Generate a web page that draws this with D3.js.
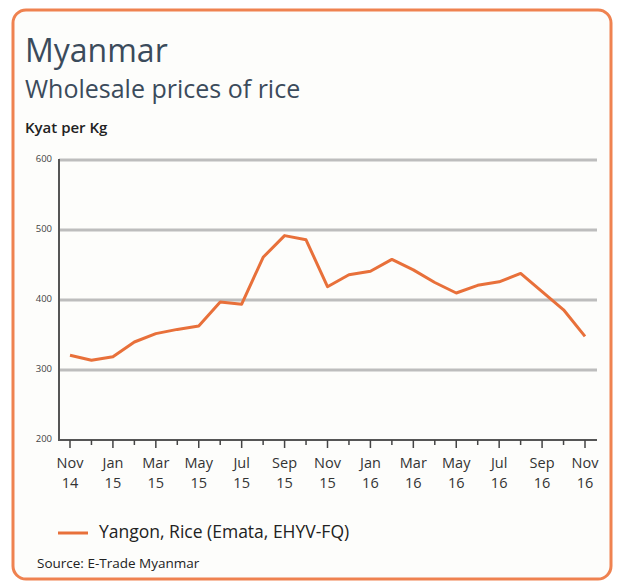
<!DOCTYPE html>
<html><head><meta charset="utf-8">
<script src="https://cdn.jsdelivr.net/npm/d3@7/dist/d3.min.js"></script>
<style>body{margin:0;background:#fff;} svg{display:block;}</style>
</head><body>
<svg id="c" width="622" height="584"></svg>
<script>
const months = ["Nov 14","Dec 14","Jan 15","Feb 15","Mar 15","Apr 15","May 15","Jun 15","Jul 15","Aug 15","Sep 15","Oct 15","Nov 15","Dec 15","Jan 16","Feb 16","Mar 16","Apr 16","May 16","Jun 16","Jul 16","Aug 16","Sep 16","Oct 16","Nov 16"];
const yangonRice = [321,314,319,340,352,358,363,397,394,461,492,486,419,436,441,458,443,425,410,421,426,438,412,386,348];
const yTicks = [200,300,400,500,600];
const xLabelMonths = ["Nov 14","Jan 15","Mar 15","May 15","Jul 15","Sep 15","Nov 15","Jan 16","Mar 16","May 16","Jul 16","Sep 16","Nov 16"];

const svg = d3.select("#c");
const font = "'Open Sans', 'Noto Sans', sans-serif";

svg.append("rect").attr("x",13).attr("y",10).attr("width",598).attr("height",569)
  .attr("rx",13).attr("fill","#fdfdfb").attr("stroke","#ef8250").attr("stroke-width",3);

svg.append("text").attr("x",25).attr("y",62).text("Myanmar")
  .attr("font-family",font).attr("font-size",32).attr("fill","#3b4b5b");
svg.append("text").attr("x",25).attr("y",98).text("Wholesale prices of rice")
  .attr("font-family",font).attr("font-size",25).attr("fill","#3b4b5b");
svg.append("text").attr("x",25).attr("y",133).text("Kyat per Kg")
  .attr("font-family",font).attr("font-size",15).attr("fill","#222").attr("font-weight",600);

const x = d3.scalePoint().domain(months).range([70,585]);
const y = d3.scaleLinear().domain([200,600]).range([440,160]);
const x0 = 59, x1 = 597;

// gridlines
svg.append("g").selectAll("line").data(yTicks.filter(d=>d>200)).join("line")
  .attr("x1",x0).attr("x2",x1).attr("y1",d=>y(d)).attr("y2",d=>y(d))
  .attr("stroke","#bdbdbd").attr("stroke-width",3);

// y labels
svg.append("g").selectAll("text").data(yTicks).join("text")
  .attr("x",52).attr("y",d=>y(d)+2).attr("text-anchor","end")
  .attr("font-family",font).attr("font-size",9.5).attr("fill","#444").text(d=>d);

// axes lines
svg.append("line").attr("x1",x0).attr("x2",x0).attr("y1",y(600)-1).attr("y2",y(200)+1)
  .attr("stroke","#555").attr("stroke-width",2);
svg.append("line").attr("x1",x0).attr("x2",x1).attr("y1",y(200)).attr("y2",y(200))
  .attr("stroke","#555").attr("stroke-width",2);

// x ticks
svg.append("g").selectAll("line").data(months).join("line")
  .attr("x1",d=>x(d)).attr("x2",d=>x(d)).attr("y1",y(200))
  .attr("y2",(d,i)=>y(200)+(i%2===0?8:5))
  .attr("stroke","#444").attr("stroke-width",1.5);

// x labels
const xl = svg.append("g").selectAll("text").data(xLabelMonths).join("text")
  .attr("x",d=>x(d)).attr("text-anchor","middle")
  .attr("font-family",font).attr("font-size",14.5).attr("fill","#333");
xl.append("tspan").attr("x",d=>x(d)).attr("y",468).text(d=>d.split(" ")[0]);
xl.append("tspan").attr("x",d=>x(d)).attr("y",488).text(d=>d.split(" ")[1]);

// line
svg.append("path").datum(yangonRice)
  .attr("d", d3.line().x((d,i)=>x(months[i])).y(d=>y(d)))
  .attr("fill","none").attr("stroke","#e8703a").attr("stroke-width",3).attr("stroke-linejoin","round");

// legend
svg.append("line").attr("x1",58).attr("x2",88).attr("y1",533).attr("y2",533)
  .attr("stroke","#e8703a").attr("stroke-width",3);
svg.append("text").attr("x",99).attr("y",538).text("Yangon, Rice (Emata, EHYV-FQ)")
  .attr("font-family",font).attr("font-size",17.5).attr("fill","#222");

svg.append("text").attr("x",37).attr("y",568).text("Source: E-Trade Myanmar")
  .attr("font-family",font).attr("font-size",13.5).attr("fill","#222");
</script>
</body></html>
